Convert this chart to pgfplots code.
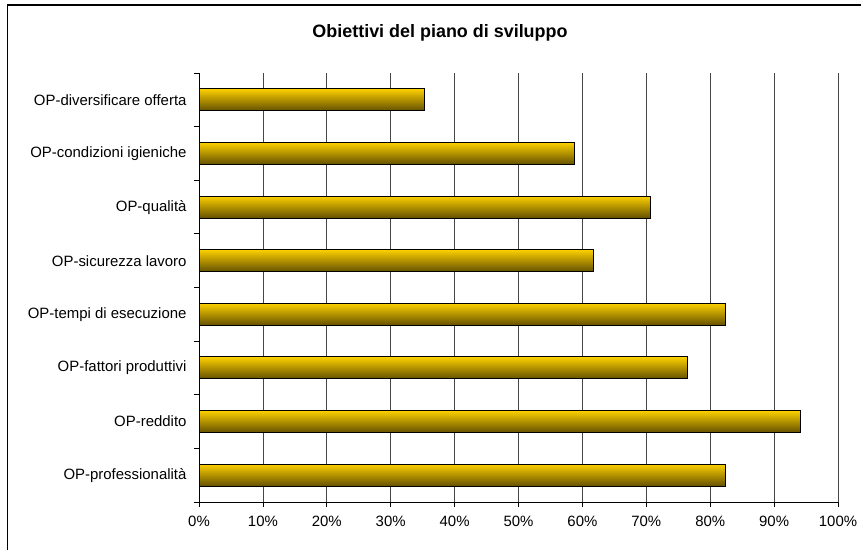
\documentclass[border=0pt]{standalone}
\usepackage{pgfplots}
\pgfplotsset{compat=1.18}
\usepackage{fontspec}
\setmainfont{Liberation Sans}
\definecolor{barTop}{RGB}{252,208,0}
\definecolor{barMid}{RGB}{214,168,0}
\definecolor{barBot}{RGB}{100,80,0}
\definecolor{gridc}{RGB}{70,70,70}

\begin{document}
\begin{tikzpicture}
  \path[use as bounding box] (0bp,0bp) rectangle (861bp,550bp);
  \begin{scope}
    \clip (0bp,0bp) rectangle (861bp,550bp);
    \draw[line width=1.6bp] (7.5bp,-20bp) rectangle (880bp,545bp);
  \end{scope}
  \node[font=\fontsize{18}{21}\selectfont\bfseries] at (440bp,517bp) {Obiettivi del piano di sviluppo};
  \begin{axis}[
      at={(199bp,48bp)}, anchor=south west,
      scale only axis,
      width=639bp, height=429bp,
      xmin=0, xmax=100,
      ymin=-0.5, ymax=7.5,
      axis lines*=left,
      axis line style={-, black, line width=0.9bp},
      xtick={0,10,...,100},
      xticklabels={0\%,10\%,20\%,30\%,40\%,50\%,60\%,70\%,80\%,90\%,100\%},
      xmajorgrids,
      major grid style={gridc, line width=0.8bp},
      ytick={0,...,7},
      yticklabels={OP-professionalità,OP-reddito,OP-fattori produttivi,OP-tempi di esecuzione,OP-sicurezza lavoro,OP-qualità,OP-condizioni igieniche,OP-diversificare offerta},
      minor ytick={-0.5,0.5,...,7.5},
      tick align=outside,
      major tick length=5bp,
      minor tick length=5bp,
      major y tick style={draw=none},
      minor y tick style={black, line width=0.8bp},
      major x tick style={black, line width=0.8bp},
      tick label style={font=\fontsize{15}{17}\selectfont},
      yticklabel style={xshift=-4bp},
      xticklabel style={yshift=-6bp},
      bars/.style={xbar, bar width=0.41, bar shift=0pt, draw=black, line width=1bp,
        top color=barTop, middle color=barMid, bottom color=barBot},
    ]
    \addplot[bars] coordinates {(82.4,0)};
    \addplot[bars] coordinates {(94.1,1)};
    \addplot[bars] coordinates {(76.5,2)};
    \addplot[bars] coordinates {(82.4,3)};
    \addplot[bars] coordinates {(61.8,4)};
    \addplot[bars] coordinates {(70.6,5)};
    \addplot[bars] coordinates {(58.8,6)};
    \addplot[bars] coordinates {(35.3,7)};
  \end{axis}
\end{tikzpicture}
\end{document}
